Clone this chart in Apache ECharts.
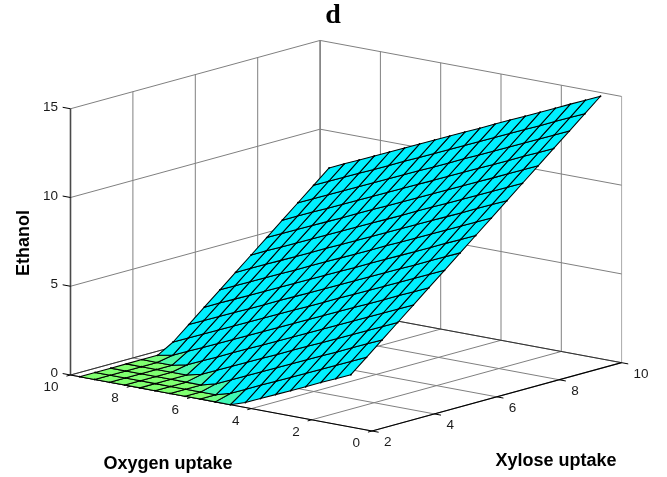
<!DOCTYPE html>
<html><head><meta charset="utf-8">
<style>html,body{margin:0;padding:0;background:#fff}#c{width:667px;height:477px}</style>
<script src="https://cdn.jsdelivr.net/npm/echarts@6/dist/echarts.min.js"></script>
</head><body><div id="c"></div>
<script>
// Tick values
const xyloseTicks = [2, 4, 6, 8, 10];
const oxygenTicks = [0, 2, 4, 6, 8, 10];
const ethanolTicks = [0, 5, 10, 15];
// Surface sample positions
const xyloseGrid = [2, 2.5, 3, 3.5, 4, 4.5, 5, 5.5, 6, 6.5, 7, 7.5, 8, 8.5, 9, 9.5, 10];
const oxygenGrid = [0.7, 1.2, 1.7, 2.2, 2.7, 3.2, 3.7, 4.2, 4.7, 5.2, 5.7, 6.2, 6.7, 7.2, 7.7, 8.2, 8.7, 9.2, 9.7];
// Ethanol, one row per oxygen position, one column per xylose position
const e00 = [2.95,3.69,4.43,5.17,5.91,6.65,7.39,8.13,8.87,9.61,10.35,11.09,11.83,12.57,13.31,14.05,14.79];
const e01 = [2.57,3.31,4.05,4.79,5.53,6.27,7.01,7.75,8.49,9.23,9.97,10.71,11.45,12.19,12.93,13.67,14.41];
const e02 = [2.19,2.93,3.67,4.41,5.15,5.89,6.63,7.37,8.11,8.85,9.59,10.33,11.07,11.81,12.55,13.29,14.03];
const e03 = [1.80,2.54,3.28,4.02,4.76,5.50,6.24,6.98,7.72,8.46,9.20,9.94,10.68,11.42,12.16,12.90,13.64];
const e04 = [1.42,2.16,2.90,3.64,4.38,5.12,5.86,6.60,7.34,8.08,8.82,9.56,10.30,11.04,11.78,12.52,13.26];
const e05 = [1.04,1.78,2.52,3.26,4.00,4.74,5.48,6.22,6.96,7.70,8.44,9.18,9.92,10.66,11.40,12.14,12.88];
const e06 = [0.66,1.40,2.14,2.88,3.62,4.36,5.10,5.84,6.58,7.32,8.06,8.80,9.54,10.28,11.02,11.76,12.50];
const e07 = [0.28,1.02,1.76,2.50,3.24,3.98,4.72,5.46,6.20,6.94,7.68,8.42,9.16,9.90,10.64,11.38,12.12];
const e08 = [0,0.63,1.37,2.11,2.85,3.59,4.33,5.07,5.81,6.55,7.29,8.03,8.77,9.51,10.25,10.99,11.73];
const e09 = [0,0.25,0.99,1.73,2.47,3.21,3.95,4.69,5.43,6.17,6.91,7.65,8.39,9.13,9.87,10.61,11.35];
const e10 = [0,0,0.61,1.35,2.09,2.83,3.57,4.31,5.05,5.79,6.53,7.27,8.01,8.75,9.49,10.23,10.97];
const e11 = [0,0,0.23,0.97,1.71,2.45,3.19,3.93,4.67,5.41,6.15,6.89,7.63,8.37,9.11,9.85,10.59];
const e12 = [0,0,0,0.59,1.33,2.07,2.81,3.55,4.29,5.03,5.77,6.51,7.25,7.99,8.73,9.47,10.21];
const e13 = [0,0,0,0.20,0.94,1.68,2.42,3.16,3.90,4.64,5.38,6.12,6.86,7.60,8.34,9.08,9.82];
const e14 = [0,0,0,0,0.56,1.30,2.04,2.78,3.52,4.26,5.00,5.74,6.48,7.22,7.96,8.70,9.44];
const e15 = [0,0,0,0,0.18,0.92,1.66,2.40,3.14,3.88,4.62,5.36,6.10,6.84,7.58,8.32,9.06];
const e16 = [0,0,0,0,0,0.54,1.28,2.02,2.76,3.50,4.24,4.98,5.72,6.46,7.20,7.94,8.68];
const e17 = [0,0,0,0,0,0.16,0.90,1.64,2.38,3.12,3.86,4.60,5.34,6.08,6.82,7.56,8.30];
const e18 = [0,0,0,0,0,0,0.51,1.25,1.99,2.73,3.47,4.21,4.95,5.69,6.43,7.17,7.91];
const ethanol = [e00,e01,e02,e03,e04,e05,e06,e07,e08,e09,e10,e11,e12,e13,e14,e15,e16,e17,e18];

// Orthographic view of the 3-D box: data (xylose, oxygen, ethanol) to chart units
function project(x, o, z) {
  return [372 + (x - 2) * 31.2 - o * 30.15,
          431 - (x - 2) * 8.54 - o * 5.6 - z * 17.75];
}

const xMin = 2, xMax = 10, oMin = 0, oMax = 10, zMin = 0, zMax = 15;
const GRID = '#808080', DARK = '#4a4a4a', BLACK = '#000';

// Segments: [x0,o0,z0,x1,o1,z1,colour,width]
const segs = [];
xyloseTicks.forEach(x => {
  segs.push([x,oMin,zMin,x,oMax,zMin,GRID,1]);
  segs.push([x,oMax,zMin,x,oMax,zMax,x===xMax?DARK:GRID,1]);
});
oxygenTicks.forEach(o => {
  segs.push([xMin,o,zMin,xMax,o,zMin,GRID,1]);
  segs.push([xMax,o,zMin,xMax,o,zMax,o===0?'#aaaaaa':GRID,1]);
});
ethanolTicks.forEach(z => {
  segs.push([xMin,oMax,z,xMax,oMax,z,z===0?'#333':GRID,1]);
  segs.push([xMax,oMax,z,xMax,oMin,z,z===0?'#333':GRID,1]);
});
// Main axes and tick marks
segs.push([xMin,oMax,zMin,xMin,oMax,zMax,DARK,1.6]);
segs.push([xMin,oMin,zMin,xMin,oMax,zMin,BLACK,1.2]);
segs.push([xMin,oMin,zMin,xMax,oMin,zMin,BLACK,1.2]);
xyloseTicks.forEach(x => segs.push([x,oMin,zMin,x,oMin-0.22,zMin,BLACK,1]));
oxygenTicks.forEach(o => segs.push([xMin,o,zMin,xMin-0.13,o,zMin,BLACK,1]));
ethanolTicks.forEach(z => segs.push([xMin,oMax,z,xMin,oMax+0.26,z,BLACK,1]));

const cells = [];
for (let i = 0; i < oxygenGrid.length - 1; i++)
  for (let j = 0; j < xyloseGrid.length - 1; j++) cells.push([i, j]);
const meshPoints = [];
for (let i = 0; i < oxygenGrid.length; i++)
  for (let j = 0; j < xyloseGrid.length; j++) meshPoints.push([i, j]);

function cellColor(i, j) {
  const m = (ethanol[i][j] + ethanol[i+1][j] + ethanol[i][j+1] + ethanol[i+1][j+1]) / 4;
  const t = Math.min(1, m / 0.45);
  const c = [128 * (1 - t), 255 - 15 * t, 112 + 143 * t].map(Math.round);
  return 'rgb(' + c.join(',') + ')';
}

const tickFont = '13.5px "Liberation Sans", Arial, sans-serif';
const titleFont = 'bold 18px "Liberation Sans", Arial, sans-serif';
const labels = [];
xyloseTicks.forEach(x => labels.push([x, oMin, zMin, String(x), 12, 11.5, 'left']));
oxygenTicks.forEach(o => labels.push([xMin, o, zMin, String(o), -12, 12.5, 'right']));
ethanolTicks.forEach(z => labels.push([xMin, oMax, z, String(z), -12.5, -1.5, 'right']));

const chart = echarts.init(document.getElementById('c'), null, {renderer: 'canvas'});
chart.setOption({
  animation: false,
  backgroundColor: '#fff',
  grid: {left: 0, right: 0, top: 0, bottom: 0},
  xAxis: {type: 'value', min: 0, max: 667, show: false},
  yAxis: {type: 'value', min: 0, max: 477, inverse: true, show: false},
  title: {
    text: 'd', left: 328, top: -3, textAlign: 'center',
    textStyle: {fontFamily: '"Liberation Serif", "Times New Roman", serif', fontWeight: 'bold', fontSize: 28, color: '#000'}
  },
  graphic: [
    {type: 'text', x: 168, y: 464, style: {text: 'Oxygen uptake', font: titleFont, fill: '#000', align: 'center', verticalAlign: 'middle'}},
    {type: 'text', x: 556, y: 461, style: {text: 'Xylose uptake', font: titleFont, fill: '#000', align: 'center', verticalAlign: 'middle'}},
    {type: 'text', x: 24, y: 243, rotation: Math.PI / 2, style: {text: 'Ethanol', font: titleFont, fill: '#000', align: 'center', verticalAlign: 'middle'}}
  ],
  series: [
    {
      type: 'custom', coordinateSystem: 'cartesian2d', silent: true, clip: false, z: 1,
      encode: {x: -1, y: -1},
      data: segs.map((s, k) => [k]),
      renderItem(p, api) {
        const s = segs[p.dataIndex];
        const a = api.coord(project(s[0], s[1], s[2]));
        const b = api.coord(project(s[3], s[4], s[5]));
        return {type: 'line', shape: {x1: a[0], y1: a[1], x2: b[0], y2: b[1]}, style: {stroke: s[6], lineWidth: s[7], fill: null}};
      }
    },
    {
      type: 'custom', coordinateSystem: 'cartesian2d', silent: true, clip: false, z: 2,
      encode: {x: -1, y: -1},
      data: cells,
      renderItem(p, api) {
        const [i, j] = cells[p.dataIndex];
        const pts = [[i, j], [i + 1, j], [i + 1, j + 1], [i, j + 1]].map(([a, b]) =>
          api.coord(project(xyloseGrid[b], oxygenGrid[a], ethanol[a][b])));
        return {type: 'polygon', shape: {points: pts}, style: {fill: cellColor(i, j), stroke: '#000', lineWidth: 1.05, lineJoin: 'round'}};
      }
    },
    {
      type: 'custom', coordinateSystem: 'cartesian2d', silent: true, clip: false, z: 3,
      encode: {x: -1, y: -1},
      data: meshPoints,
      renderItem(p, api) {
        const [i, j] = meshPoints[p.dataIndex];
        const a = api.coord(project(xyloseGrid[j], oxygenGrid[i], ethanol[i][j]));
        return {type: 'circle', shape: {cx: a[0], cy: a[1], r: 0.9}, style: {fill: '#000'}};
      }
    },
    {
      type: 'custom', coordinateSystem: 'cartesian2d', silent: true, clip: false, z: 4,
      encode: {x: -1, y: -1},
      data: labels.map((s, k) => [k]),
      renderItem(p, api) {
        const l = labels[p.dataIndex];
        const a = api.coord(project(l[0], l[1], l[2]));
        return {type: 'text', x: a[0] + l[4], y: a[1] + l[5], style: {text: l[3], font: tickFont, fill: '#1a1a1a', align: l[6], verticalAlign: 'middle'}};
      }
    }
  ]
});
</script></body></html>
